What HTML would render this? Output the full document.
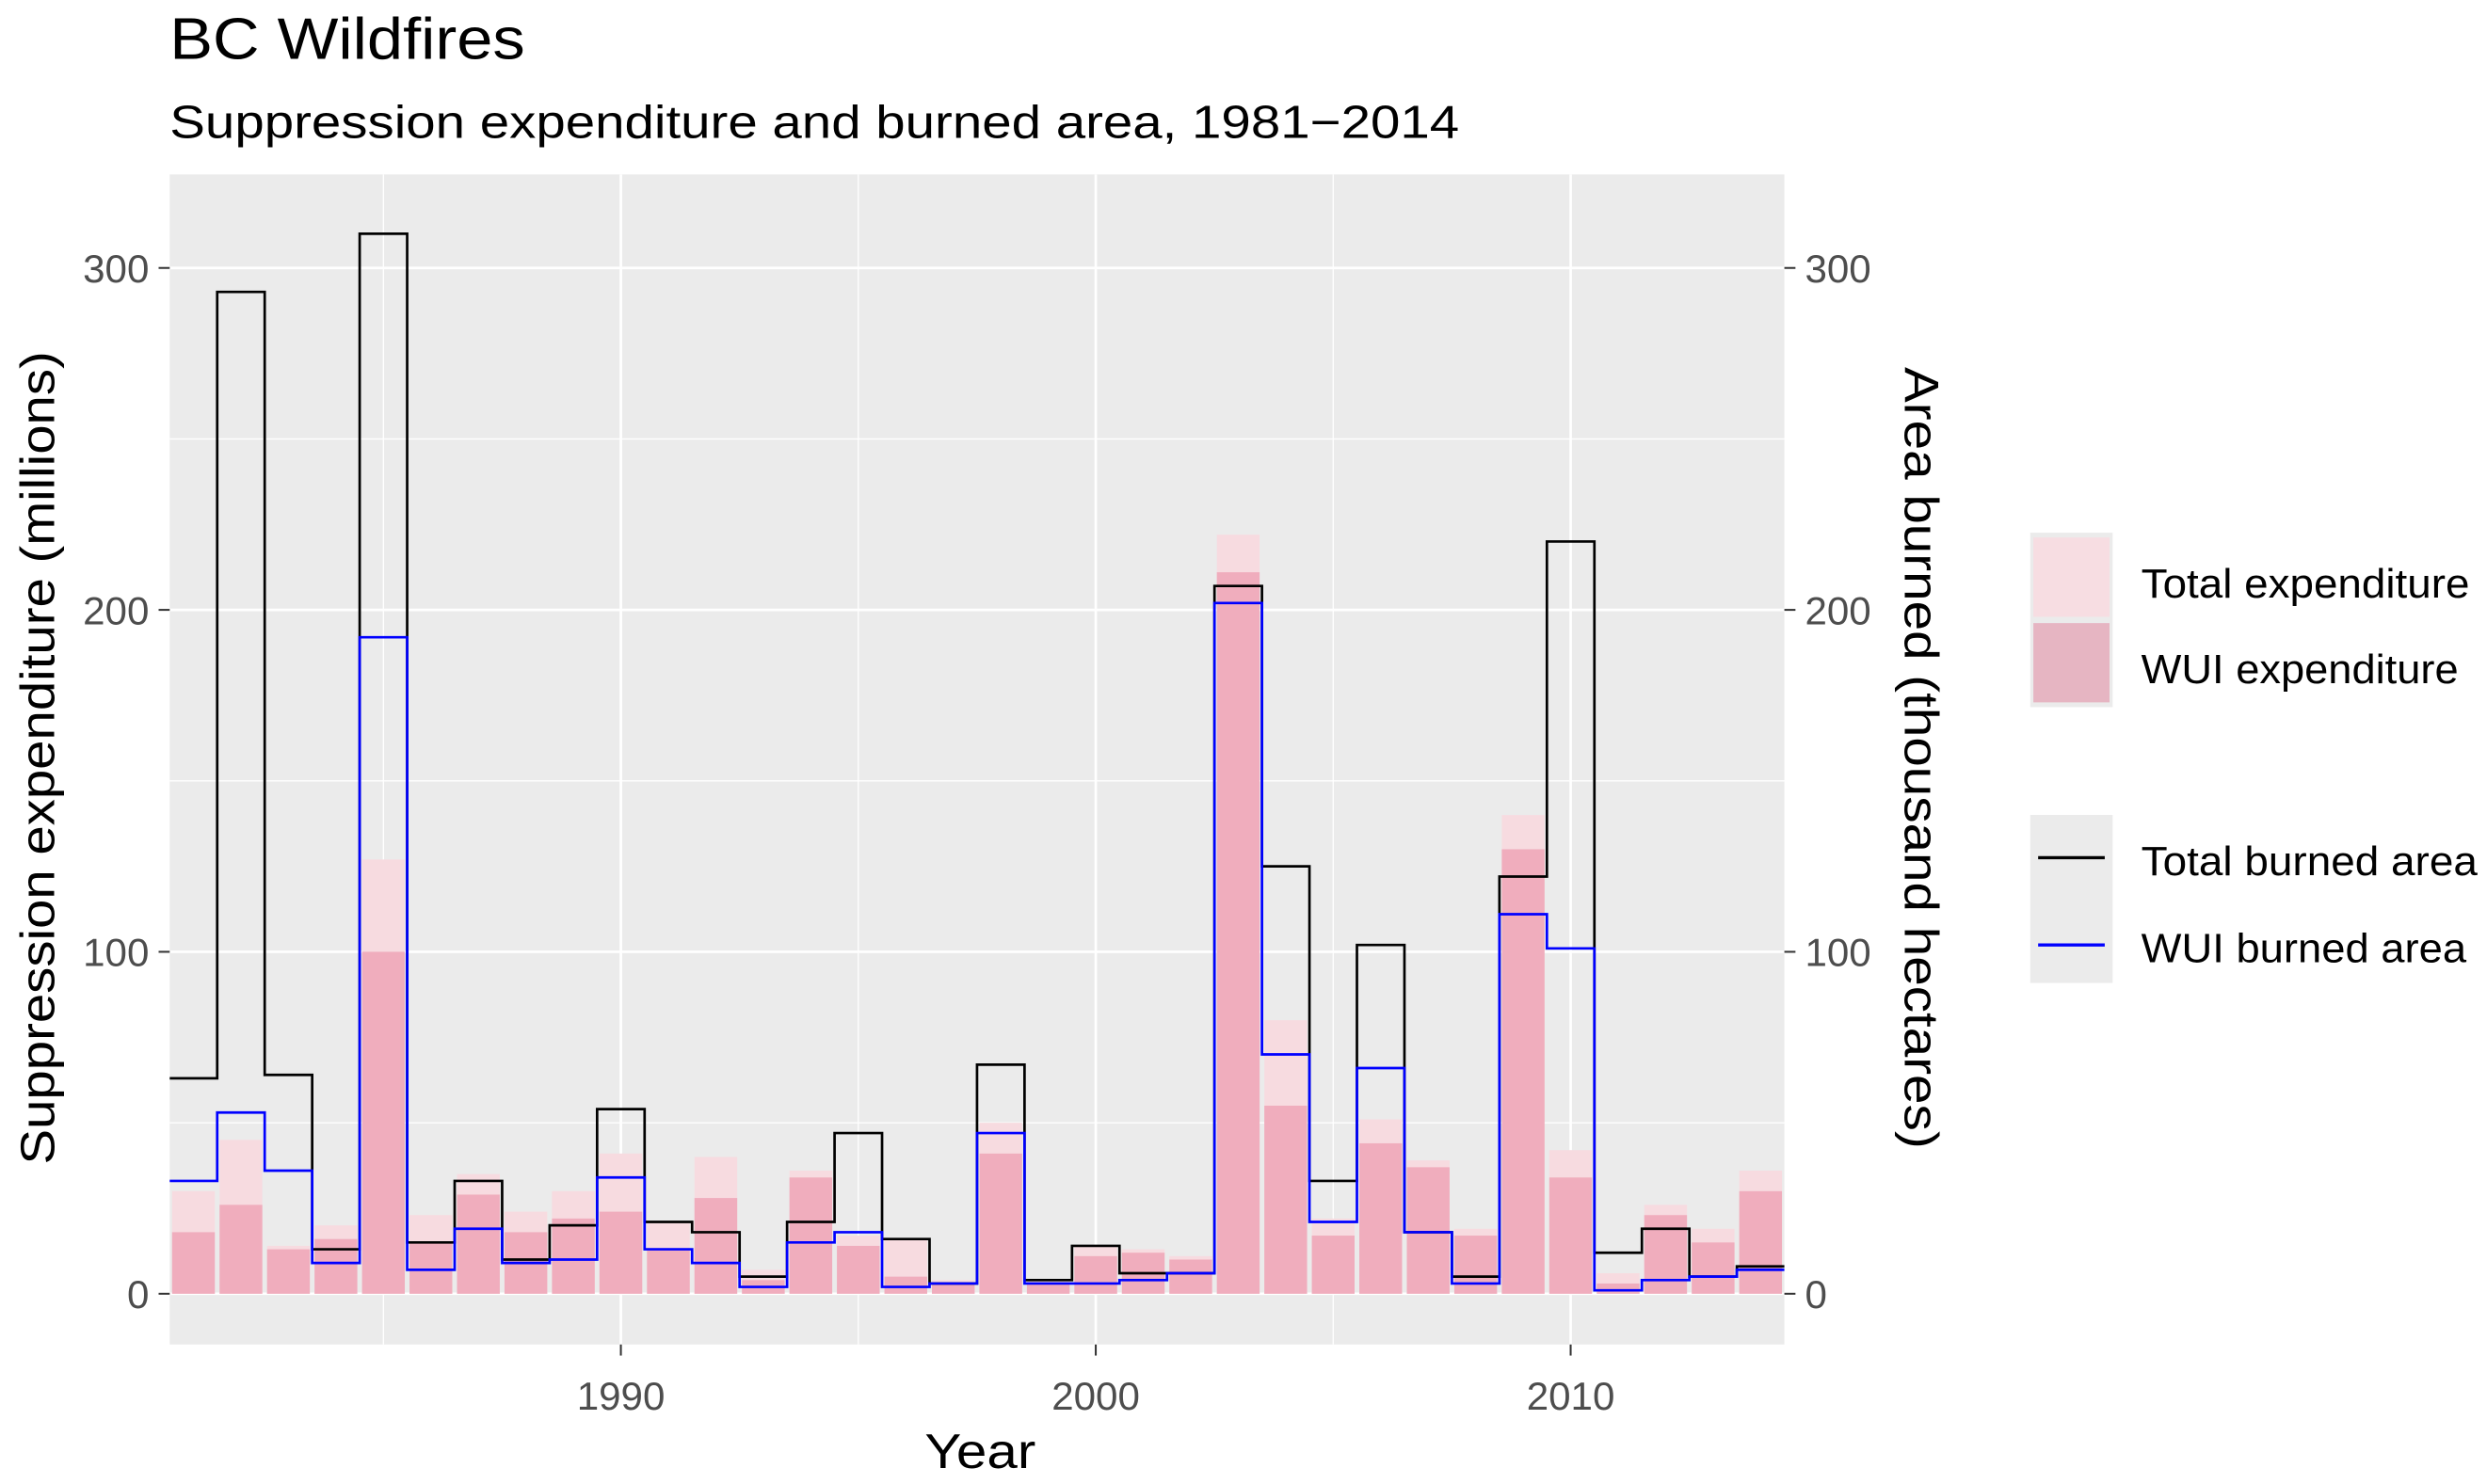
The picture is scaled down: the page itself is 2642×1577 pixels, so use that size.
<!DOCTYPE html>
<html><head><meta charset="utf-8"><style>
html,body{margin:0;padding:0;background:#fff}
svg{display:block}
text{font-family:"Liberation Sans",sans-serif}
</style></head><body>
<svg id="chart" width="2642" height="1577" viewBox="0 0 1568 936" preserveAspectRatio="none" xmlns="http://www.w3.org/2000/svg">
<text x="107" y="37" font-size="37" textLength="224" lengthAdjust="spacingAndGlyphs" fill="#000">BC Wildfires</text>
<text x="107" y="87" font-size="29" textLength="813" lengthAdjust="spacingAndGlyphs" fill="#000">Suppression expenditure and burned area, 1981−2014</text>
<rect x="107" y="110" width="1018" height="738" fill="#ebebeb"/>
<g id="grid"></g>
<g id="bars"></g>
<g id="lines"></g>
<g id="axes"></g>
<text transform="translate(34,478) rotate(-90)" text-anchor="middle" font-size="30" textLength="513" lengthAdjust="spacingAndGlyphs" fill="#000">Suppression expenditure (millions)</text>
<text transform="translate(1201,478) rotate(90)" text-anchor="middle" font-size="30" textLength="493" lengthAdjust="spacingAndGlyphs" fill="#000">Area burned (thousand hectares)</text>
<text x="618" y="926" text-anchor="middle" font-size="31" textLength="70" lengthAdjust="spacingAndGlyphs" fill="#000">Year</text>
<g>
<rect x="1280" y="336" width="52" height="110" fill="#ebebeb"/>
<rect x="1282" y="339" width="48" height="50" fill="#f7dde2"/>
<rect x="1282" y="393" width="48" height="50" fill="#e6b5c2"/>
<text x="1350" y="377" font-size="26" textLength="207" lengthAdjust="spacingAndGlyphs">Total expenditure</text>
<text x="1350" y="431" font-size="26" textLength="200" lengthAdjust="spacingAndGlyphs">WUI expenditure</text>
</g>
<g>
<rect x="1280" y="514" width="52" height="106" fill="#ebebeb"/>
<line x1="1285" x2="1327" y1="541" y2="541" stroke="#000" stroke-width="2"/>
<line x1="1285" x2="1327" y1="596" y2="596" stroke="#0000ff" stroke-width="2"/>
<text x="1350" y="552" font-size="26" textLength="212" lengthAdjust="spacingAndGlyphs">Total burned area</text>
<text x="1350" y="607" font-size="26" textLength="205" lengthAdjust="spacingAndGlyphs">WUI burned area</text>
</g>
</svg>
<script>
const years=[1981,1982,1983,1984,1985,1986,1987,1988,1989,1990,1991,1992,1993,1994,1995,1996,1997,1998,1999,2000,2001,2002,2003,2004,2005,2006,2007,2008,2009,2010,2011,2012,2013,2014];
const totalExpenditure=[30,45,14,20,127,23,35,24,30,41,21,40,7,36,17,16,4,50,4,14,13,11,222,80,22,51,39,19,140,42,6,26,19,36];
const wuiExpenditure=[18,26,13,16,100,15,29,18,22,24,13,28,4,34,14,5,3,41,3,11,12,10,211,55,17,44,37,17,130,34,3,23,15,30];
const totalArea=[63,293,64,13,310,15,33,10,20,54,21,18,5,21,47,16,3,67,4,14,6,6,207,125,33,102,18,5,122,220,12,19,5,8];
const wuiArea=[33,53,36,9,192,7,19,9,10,34,13,9,2,15,18,2,3,47,3,3,4,6,202,70,21,66,18,3,111,101,1,4,5,7];
const yTicks=[0,100,200,300];
const yMinor=[50,150,250];
const xTicks=[1990,2000,2010];
const xMinor=[1985,1995,2005];
const NS='http://www.w3.org/2000/svg';
const X0=107,X1=1125,Y0=848,Y1=110;
const xs=v=>X0+(v-1980.5)/(2014.5-1980.5)*(X1-X0);
const ys=v=>816-(v)*(816-169)/300;
function mk(tag,attrs,parent){const e=document.createElementNS(NS,tag);for(const k in attrs)e.setAttribute(k,attrs[k]);parent.appendChild(e);return e;}
const grid=document.getElementById('grid'),bars=document.getElementById('bars'),lines=document.getElementById('lines'),axes=document.getElementById('axes');
yMinor.forEach(v=>{const l=mk('line',{x1:X0,x2:X1,y1:ys(v),y2:ys(v),stroke:'#fff','stroke-width':0.8},grid);

});
xMinor.forEach(v=>{const l=mk('line',{x1:xs(v),x2:xs(v),y1:Y1,y2:Y0,stroke:'#fff','stroke-width':0.8},grid);

});
yTicks.forEach(v=>{const l=mk('line',{x1:X0,x2:X1,y1:ys(v),y2:ys(v),stroke:'#fff','stroke-width':1.6},grid);

});
xTicks.forEach(v=>{const l=mk('line',{x1:xs(v),x2:xs(v),y1:Y1,y2:Y0,stroke:'#fff','stroke-width':1.6},grid);

});
const bw=0.9;
years.forEach((yr,i)=>{
 const a=xs(yr-bw/2),b=xs(yr+bw/2);
 const t=mk('rect',{x:a,y:ys(totalExpenditure[i]),width:b-a,height:ys(0)-ys(totalExpenditure[i]),fill:'#f7dbe0'},bars);
 
 
 const w=mk('rect',{x:a,y:ys(wuiExpenditure[i]),width:b-a,height:ys(0)-ys(wuiExpenditure[i]),fill:'#f0adbd'},bars);
 
 
});
function step(vals,color,name){
 let d='';
 years.forEach((yr,i)=>{const a=xs(yr-0.5),b=xs(yr+0.5),y=ys(vals[i]);d+=(i===0?'M':'L')+a+','+y+'L'+b+','+y;});
 const p=mk('path',{d:d,fill:'none',stroke:color,'stroke-width':1.6},lines);
 
 
}
step(totalArea,'#000','line-total-burned-area');
step(wuiArea,'#0000ff','line-wui-burned-area');
yTicks.forEach(v=>{
 mk('line',{x1:X0-7,x2:X0,y1:ys(v),y2:ys(v),stroke:'#333','stroke-width':1.2},axes);
 mk('line',{x1:X1,x2:X1+7,y1:ys(v),y2:ys(v),stroke:'#333','stroke-width':1.2},axes);
 const t=mk('text',{x:X0-13,y:ys(v)+9,'text-anchor':'end','font-size':25,fill:'#4d4d4d'},axes);t.textContent=v;
 
 
 const r=mk('text',{x:X1+13,y:ys(v)+9,'font-size':25,fill:'#4d4d4d'},axes);r.textContent=v;
 
 
});
xTicks.forEach(v=>{
 mk('line',{x1:xs(v),x2:xs(v),y1:Y0,y2:Y0+7,stroke:'#333','stroke-width':1.2},axes);
 const t=mk('text',{x:xs(v),y:Y0+41,'text-anchor':'middle','font-size':25,fill:'#4d4d4d'},axes);t.textContent=v;
 
 
});
</script>
</body></html>
